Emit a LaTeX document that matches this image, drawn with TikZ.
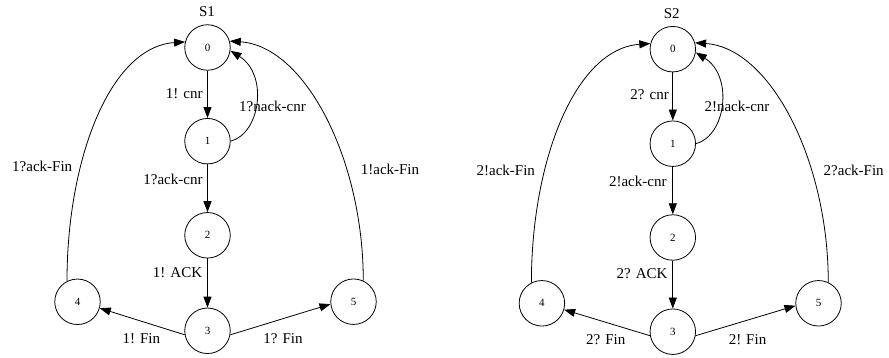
\documentclass[tikz,border=0pt]{standalone}
\usepackage{fontspec}
\setmainfont{Liberation Serif}
\usetikzlibrary{arrows.meta}
\begin{document}
\begin{tikzpicture}[x=1pt,y=1pt,
  state/.style={circle,draw,line width=0.8pt,minimum size=45.5pt,inner sep=0pt,font=\fontsize{11}{11}\selectfont},
  edge/.style={draw,line width=0.8pt,-{Triangle[length=11pt,width=8pt]}},
  lbl/.style={inner sep=0pt,font=\fontsize{15}{15}\selectfont},
  title/.style={inner sep=0pt,font=\fontsize{15}{15}\selectfont}]
\useasboundingbox (0,0) rectangle (889,358);

% ---------- machine S1 ----------
\node[title] (s1title) at (207,346.3) {S1};
\node[state] (a0) at (207.5,310.5) {0};
\node[state] (a1) at (207.5,216.8) {1};
\node[state] (a2) at (207.5,122.7) {2};
\node[state] (a3) at (207.5,27.2) {3};
\node[state] (a4) at (77.5,56.2) {4};
\node[state] (a5) at (353.5,56.3) {5};

\draw[edge] (a0) -- (a1);
\draw[edge] (a1) -- (a2);
\draw[edge] (a2) -- (a3);
\draw[edge] (a1.east) .. controls +(30,8) and +(38,-24) .. (a0.-8);
\draw[edge] (a3.190) -- (a4.-16);
\draw[edge] (a3.-10) -- (a5.186);
\draw[edge] (a4.117) .. controls +(0,122) and +(-75,-5) .. (a0.166);
\draw[edge] (a5.65) .. controls +(0,122) and +(75,-5) .. (a0.16);

\node[lbl,anchor=east] (la01) at (202.7,264.7) {1! cnr};
\node[lbl] (la10) at (272.5,252) {1?nack-cnr};
\node[lbl,anchor=east] (la12) at (202.7,179) {1?ack-cnr};
\node[lbl,anchor=east] (la23) at (202.3,85.3) {1! ACK};
\node[lbl] (la34) at (141.3,19.7) {1! Fin};
\node[lbl] (la35) at (283,19.7) {1? Fin};
\node[lbl] (la40) at (42.2,191.3) {1?ack-Fin};
\node[lbl] (la50) at (390,188.7) {1!ack-Fin};

% ---------- machine S2 ----------
\node[title] (s2title) at (671.7,344.7) {S2};
\node[state] (b0) at (672.8,308.8) {0};
\node[state] (b1) at (672.8,214.3) {1};
\node[state] (b2) at (672.8,120.5) {2};
\node[state] (b3) at (672.8,26.3) {3};
\node[state] (b4) at (541.9,54.7) {4};
\node[state] (b5) at (818.5,54.7) {5};

\draw[edge] (b0) -- (b1);
\draw[edge] (b1) -- (b2);
\draw[edge] (b2) -- (b3);
\draw[edge] (b1.east) .. controls +(30,8) and +(38,-24) .. (b0.-8);
\draw[edge] (b3.190) -- (b4.-16);
\draw[edge] (b3.-10) -- (b5.186);
\draw[edge] (b4.117) .. controls +(0,122) and +(-75,-5) .. (b0.166);
\draw[edge] (b5.65) .. controls +(0,122) and +(75,-5) .. (b0.16);

\node[lbl,anchor=east] (lb01) at (669,263) {2? cnr};
\node[lbl] (lb10) at (737,251.3) {2!nack-cnr};
\node[lbl,anchor=east] (lb12) at (666.7,176.3) {2!ack-cnr};
\node[lbl,anchor=east] (lb23) at (667.7,84) {2? ACK};
\node[lbl] (lb34) at (605.7,18) {2? Fin};
\node[lbl] (lb35) at (747.5,18) {2! Fin};
\node[lbl] (lb40) at (505.8,188) {2!ack-Fin};
\node[lbl] (lb50) at (853.7,187.3) {2?ack-Fin};
\end{tikzpicture}
\end{document}
